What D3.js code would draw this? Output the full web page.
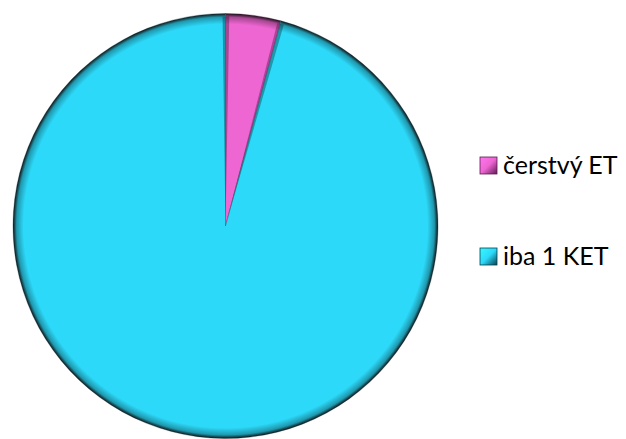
<!DOCTYPE html>
<html><head><meta charset="utf-8">
<script src="https://cdn.jsdelivr.net/npm/d3@7"></script>
<style>body{margin:0;background:#fff}svg{display:block}</style>
</head><body>
<script>
const categories = ["čerstvý ET", "iba 1 KET"];
const values = [4.2, 95.8];
const colors = ["#EE66D2", "#2DD9F9"];
const darkColors = ["#5E1A52", "#06404F"];

const W = 626, H = 439;
const cx = 225.5, cy = 226, R = 212.5;
const svg = d3.select("body").append("svg").attr("width", W).attr("height", H);
const defs = svg.append("defs");

categories.forEach((c, i) => {
  const g = defs.append("radialGradient").attr("id", "rg" + i)
    .attr("gradientUnits", "userSpaceOnUse").attr("cx", 0).attr("cy", 0).attr("r", R);
  g.append("stop").attr("offset", "0%").attr("stop-color", colors[i]);
  g.append("stop").attr("offset", "95%").attr("stop-color", colors[i]);
  g.append("stop").attr("offset", "98.3%").attr("stop-color", d3.color(colors[i]).darker(1));
  g.append("stop").attr("offset", "100%").attr("stop-color", "#111");
  const lg = defs.append("linearGradient").attr("id", "lg" + i)
    .attr("x1", 0).attr("y1", 0).attr("x2", 1).attr("y2", 1);
  lg.append("stop").attr("offset", "0%").attr("stop-color", d3.color(colors[i]).brighter(0.4));
  lg.append("stop").attr("offset", "50%").attr("stop-color", colors[i]);
  lg.append("stop").attr("offset", "100%").attr("stop-color", darkColors[i]);
});

const pie = d3.pie().sort(null).value(d => d)(values);
const arc = d3.arc().innerRadius(0).outerRadius(R);
const g = svg.append("g").attr("transform", `translate(${cx},${cy})`);

g.selectAll("path.slice").data(pie).join("path")
  .attr("class", "slice")
  .attr("d", arc)
  .attr("fill", (d, i) => `url(#rg${i})`)
  .attr("stroke", (d, i) => darkColors[i])
  .attr("stroke-opacity", 0.4)
  .attr("stroke-width", 0.8);

// bevel shading along slice edges
const edge = d3.arc().innerRadius(0).outerRadius(R - 3);
pie.forEach((d, i) => {
  g.append("path").attr("d", edge({ startAngle: d.startAngle, endAngle: d.startAngle + 0.018 }))
    .attr("fill", "#000").attr("opacity", 0.3);
  g.append("path").attr("d", edge({ startAngle: d.endAngle - 0.014, endAngle: d.endAngle }))
    .attr("fill", darkColors[i]).attr("opacity", 0.45);
});

// legend
const leg = svg.append("g");
const ly = [165.5, 256.5];
categories.forEach((c, i) => {
  leg.append("rect").attr("x", 480).attr("y", ly[i] - 8.5).attr("width", 17).attr("height", 17)
    .attr("fill", `url(#lg${i})`).attr("stroke", darkColors[i]).attr("stroke-width", 0.8);
  leg.append("text").attr("x", 503).attr("y", ly[i] + 8)
    .attr("font-family", "Lato, 'Open Sans', sans-serif").attr("font-size", 25)
    .attr("fill", "#000").text(c);
});
</script>
</body></html>
